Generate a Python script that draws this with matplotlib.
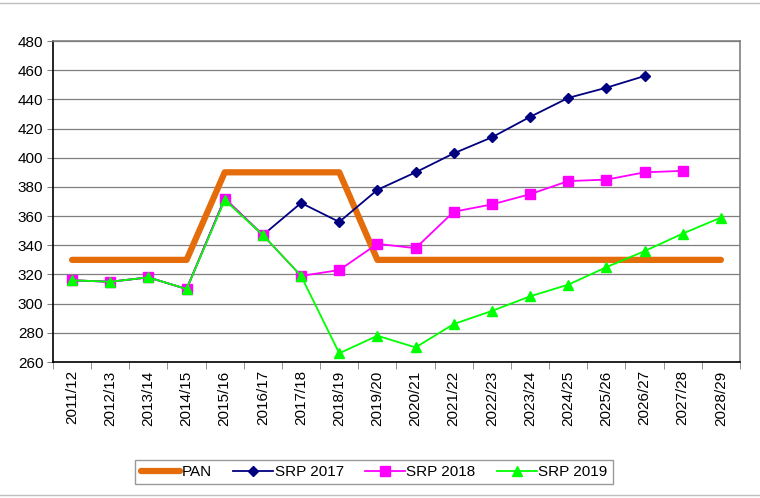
import matplotlib
matplotlib.use("Agg")
import matplotlib.pyplot as plt
from matplotlib.lines import Line2D

plt.rcParams['font.family'] = ['Liberation Sans', 'DejaVu Sans']

seasons = ["2011/12", "2012/13", "2013/14", "2014/15", "2015/16", "2016/17",
           "2017/18", "2018/19", "2019/20", "2020/21", "2021/22", "2022/23",
           "2023/24", "2024/25", "2025/26", "2026/27", "2027/28", "2028/29"]

pan = [330, 330, 330, 330, 390, 390, 390, 390, 330, 330, 330, 330,
       330, 330, 330, 330, 330, 330]
srp_2017 = [316, 315, 318, 310, 372, 347, 369, 356, 378, 390, 403, 414,
            428, 441, 448, 456]
srp_2018 = [316, 315, 318, 310, 372, 347, 319, 323, 341, 338, 363, 368,
            375, 384, 385, 390, 391]
srp_2019 = [316, 315, 318, 310, 371, 347, 319, 266, 278, 270, 286, 295,
            305, 313, 325, 336, 348, 359]

fig = plt.figure(figsize=(7.6, 4.98), dpi=100)
ax = fig.add_axes([53 / 760, 1 - 362 / 498, 687 / 760, 321 / 498])

x = range(len(seasons))
ax.plot(x, pan, color="#E46C0A", lw=4.5, solid_capstyle="round", label="PAN", zorder=2)
ax.plot(range(len(srp_2017)), srp_2017, color="#000080", lw=1.3, marker="D",
        ms=5.5, label="SRP 2017", zorder=3)
ax.plot(range(len(srp_2018)), srp_2018, color="#FF00FF", lw=1.3, marker="s",
        ms=7.5, label="SRP 2018", zorder=4)
ax.plot(range(len(srp_2019)), srp_2019, color="#00FF00", lw=1.3, marker="^",
        ms=7.5, label="SRP 2019", zorder=5)

ax.set_xlim(-0.5, len(seasons) - 0.5)
ax.set_ylim(260, 480)
ax.set_yticks(range(260, 481, 20))
ax.yaxis.grid(True, color="#7F7F7F", lw=0.9)
ax.set_axisbelow(True)

ax.set_xticks(list(x))
ax.set_xticklabels(seasons, rotation=90)
ax.set_xticks([i - 0.5 for i in range(len(seasons) + 1)], minor=True)
ax.tick_params(axis="x", which="major", length=0, pad=6, labelsize=11)
ax.tick_params(axis="x", which="minor", length=5, color="#808080", direction="out")
ax.tick_params(axis="y", length=4, color="#808080", labelsize=11, pad=3)

ax.spines["left"].set_color("black")
ax.spines["bottom"].set_color("black")
ax.spines["top"].set_color("#808080")
ax.spines["right"].set_color("#808080")
for s in ax.spines.values():
    s.set_linewidth(1.2)

leg = fig.legend(loc="center", bbox_to_anchor=(374 / 760, 1 - 472 / 498), ncol=4,
                 frameon=True, fancybox=False, edgecolor="#808080", fontsize=11,
                 handlelength=2.6, handletextpad=0.1, columnspacing=1.4,
                 borderpad=0.35)
leg.get_frame().set_linewidth(1.0)

fig.add_artist(Line2D([0, 1], [1 - 3 / 498, 1 - 3 / 498], color="#C0C0C0", lw=1))
fig.add_artist(Line2D([0, 1], [1 - 495 / 498, 1 - 495 / 498], color="#C0C0C0", lw=1))

fig.savefig("out.png", dpi=100)
